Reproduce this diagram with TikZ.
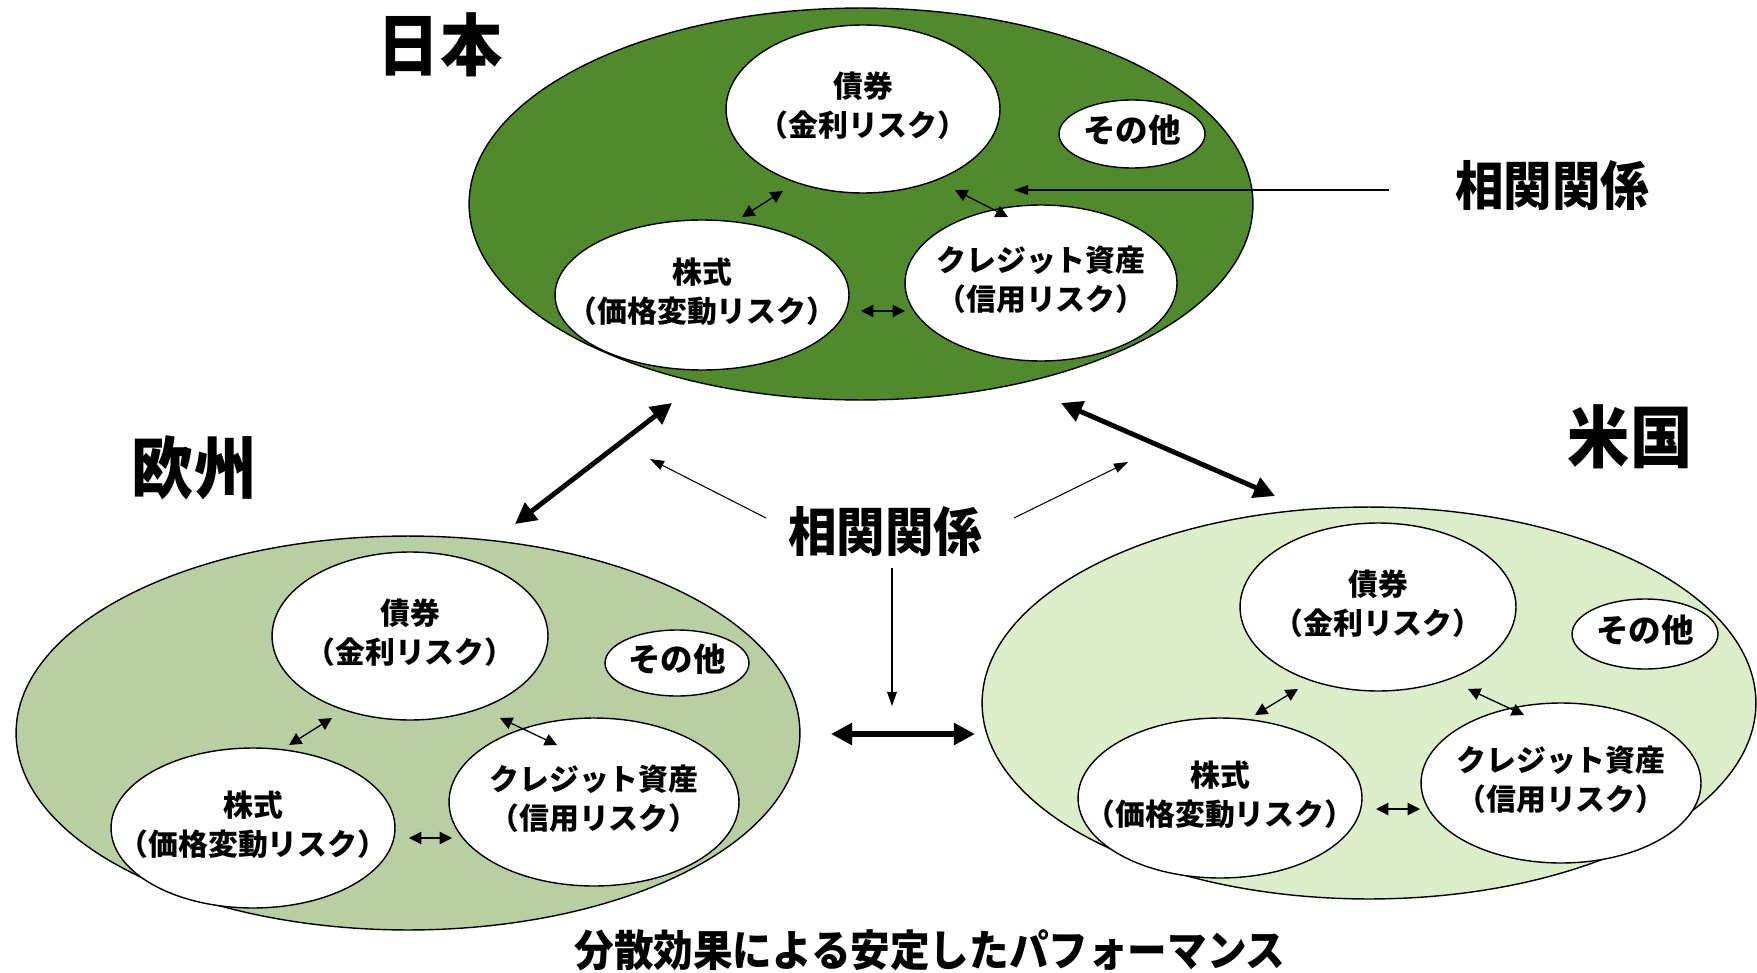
\documentclass[tikz,border=0pt]{standalone}
\usepackage{fontspec}
\newfontfamily\jp{Noto Sans CJK JP}
\newfontfamily\jpn[FakeStretch=0.92]{Noto Sans CJK JP}
\usetikzlibrary{arrows.meta,positioning,shapes.geometric}
\definecolor{nihon}{HTML}{518A2C}
\definecolor{oushu}{HTML}{B8CEA3}
\definecolor{beikoku}{HTML}{DBEDC9}
\newcommand{\futa}[1]{\makebox[0pt]{\raisebox{-2pt}{\begin{tabular}{@{}c@{}}#1\end{tabular}}}}
\tikzset{
  kuni/.style={ellipse,draw,line width=0.8pt,inner sep=0pt},
  maru/.style={ellipse,draw,fill=white,line width=0.8pt,inner sep=0pt,
    font=\jp\bfseries\fontsize{17}{22}\selectfont},
  sono/.style={maru,font=\jp\bfseries\fontsize{18.5}{22}\selectfont},
  midashi/.style={font=\jpn\bfseries\fontsize{38.5}{40}\selectfont},
  sokan/.style={font=\jpn\bfseries\fontsize{30}{32}\selectfont},
  ya/.style={{Triangle[length=7pt,width=7pt]}-{Triangle[length=7pt,width=7pt]},line width=0.75pt},
  futoya/.style={{Triangle[length=12pt,width=12pt]}-{Triangle[length=12pt,width=12pt]},line width=2.8pt},
  hoso/.style={-{Triangle[length=8pt,width=5.5pt]},line width=0.6pt},
}
\begin{document}
\begin{tikzpicture}[x=0.02cm,y=-0.02cm]
  \useasboundingbox (0,0) rectangle (1757,973);
  \begin{scope}
    \node[kuni,fill=nihon,minimum width=15.68cm,minimum height=7.84cm] (jpn) at (861,204) {};
    \node[maru,minimum width=5.48cm,minimum height=3.36cm] (jsai) at (863,109) {\futa{債券\\（金利リスク）}};
    \node[sono,minimum width=2.92cm,minimum height=1.36cm] (jsono) at (1132,134) {\futa{その他}};
    \node[maru,minimum width=5.88cm,minimum height=3cm] (jkabu) at (702,295) {\futa{株式\\（価格変動リスク）}};
    \node[maru,minimum width=5.44cm,minimum height=3.12cm] (jkure) at (1041,283) {\futa{クレジット資産\\（信用リスク）}};
    \coordinate (ja1) at (742,217); \coordinate (ja2) at (783,191);
    \coordinate (jb1) at (955,190); \coordinate (jb2) at (1008,217);
    \coordinate (jc1) at (861,311); \coordinate (jc2) at (905,311);
    \draw[ya] (ja1) -- (ja2);
    \draw[ya] (jb1) -- (jb2);
    \draw[ya] (jc1) -- (jc2);
    \node[midashi] (jmei) at (440,45) {日本};
  \end{scope}
  \begin{scope}
    \node[kuni,fill=oushu,minimum width=15.68cm,minimum height=7.88cm] (eur) at (408,733) {};
    \node[maru,minimum width=5.52cm,minimum height=3.36cm] (esai) at (410,636) {\futa{債券\\（金利リスク）}};
    \node[sono,minimum width=2.88cm,minimum height=1.32cm] (esono) at (677,663) {\futa{その他}};
    \node[maru,minimum width=5.68cm,minimum height=3.2cm] (ekabu) at (253,828) {\futa{株式\\（価格変動リスク）}};
    \node[maru,minimum width=5.8cm,minimum height=3.36cm] (ekure) at (594,802) {\futa{クレジット資産\\（信用リスク）}};
    \coordinate (ea1) at (289,745); \coordinate (ea2) at (332,718);
    \coordinate (eb1) at (500,718); \coordinate (eb2) at (557,745);
    \coordinate (ec1) at (409,838); \coordinate (ec2) at (452,838);
    \draw[ya] (ea1) -- (ea2);
    \draw[ya] (eb1) -- (eb2);
    \draw[ya] (ec1) -- (ec2);
    \node[midashi] (emei) at (194,468) {欧州};
  \end{scope}
  \begin{scope}
    \node[kuni,fill=beikoku,minimum width=15.48cm,minimum height=7.84cm] (usa) at (1369,703) {};
    \node[maru,minimum width=5.52cm,minimum height=3.36cm] (usai) at (1378,607) {\futa{債券\\（金利リスク）}};
    \node[sono,minimum width=2.92cm,minimum height=1.4cm] (usono) at (1645,634) {\futa{その他}};
    \node[maru,minimum width=5.68cm,minimum height=3.2cm] (ukabu) at (1220,798) {\futa{株式\\（価格変動リスク）}};
    \node[maru,minimum width=5.6cm,minimum height=3.2cm] (ukure) at (1561,783) {\futa{クレジット資産\\（信用リスク）}};
    \coordinate (ua1) at (1255,715); \coordinate (ua2) at (1298,689);
    \coordinate (ub1) at (1468,689); \coordinate (ub2) at (1524,715);
    \coordinate (uc1) at (1376,809); \coordinate (uc2) at (1420,809);
    \draw[ya] (ua1) -- (ua2);
    \draw[ya] (ub1) -- (ub2);
    \draw[ya] (uc1) -- (uc2);
    \node[midashi] (umei) at (1630,437) {米国};
  \end{scope}
  \node[sokan] (sokan1) at (1552,185) {相関関係};
  \coordinate (s1) at (1389,190); \coordinate (s2) at (1014,190);
  \draw[hoso] (s1) -- (s2);
  \node[sokan] (sokan2) at (885,531) {相関関係};
  \coordinate (t1) at (766,518); \coordinate (t2) at (650,459);
  \coordinate (t3) at (1014,518); \coordinate (t4) at (1128,462);
  \coordinate (t5) at (892,568); \coordinate (t6) at (892,706);
  \draw[hoso] (t1) -- (t2);
  \draw[hoso] (t3) -- (t4);
  \draw[hoso] (t5) -- (t6);
  \coordinate (je1) at (672,403); \coordinate (je2) at (515,524);
  \coordinate (ju1) at (1061,403); \coordinate (ju2) at (1275,496);
  \coordinate (eu1) at (831,734); \coordinate (eu2) at (975,734);
  \draw[futoya] (je1) -- (je2);
  \draw[futoya] (ju1) -- (ju2);
  \draw[futoya,line width=3.4pt] (eu1) -- (eu2);
  \node[font=\jpn\bfseries\fontsize{24.5}{27}\selectfont] (kekka) at (930,950) {分散効果による安定したパフォーマンス};
\end{tikzpicture}
\end{document}
